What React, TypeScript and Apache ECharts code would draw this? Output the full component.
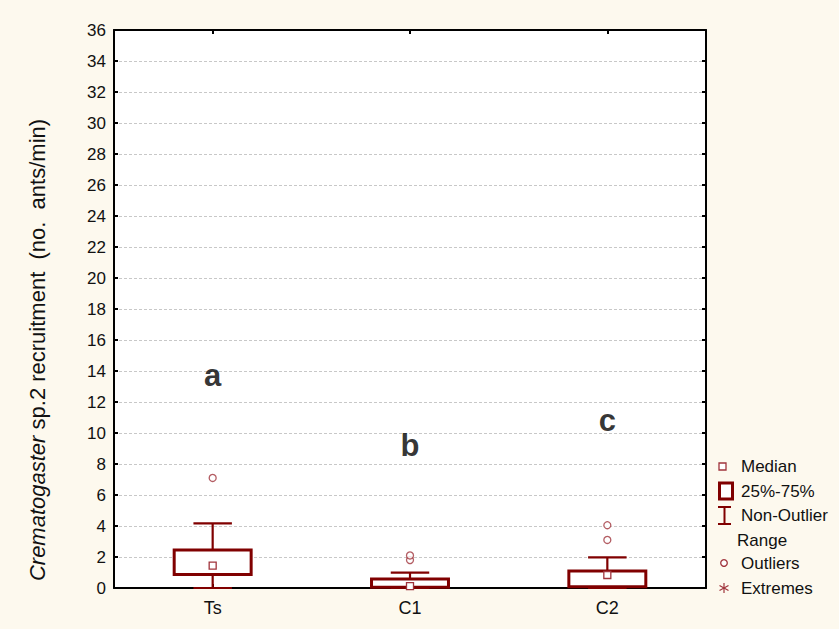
import React, { useEffect, useRef } from "react";
import * as echarts from "echarts";

// Groups on the x axis
const categories = ["Ts", "C1", "C2"];
// [min, Q1, median, Q3, max] of the non-outlier range for each group
const boxStats = [
  [0, 0.87, 1.44, 2.45, 4.17],
  [0, 0.05, 0.12, 0.58, 0.99],
  [0, 0.08, 0.84, 1.1, 1.98],
];
// Outliers as [group index, value]
const outliers = [
  [0, 7.1],
  [1, 1.8],
  [1, 2.1],
  [2, 3.1],
  [2, 4.05],
];
// Significance letters as [group index, value, letter]
const letters: [number, number, string][] = [
  [0, 13.7, "a"],
  [1, 9.2, "b"],
  [2, 10.8, "c"],
];
const yTicks = { min: 0, max: 36, interval: 2 };
const yTitle = "{i|Crematogaster} sp.2 recruitment  (no.  ants/min)";

const DARK = "#800000";
const LIGHT = "#a0343c";
const FONT = "Liberation Sans, Arial, sans-serif";

export default function App() {
  const ref = useRef<HTMLDivElement>(null);

  useEffect(() => {
    if (!ref.current) return;
    const chart = echarts.init(ref.current, null, { renderer: "svg" });

    const axisLine = { show: true, onZero: false, lineStyle: { color: "#000", width: 2 } };
    const tick = { show: true, inside: true, length: 4, lineStyle: { color: "#000", width: 2 } };

    const legendText = (text: string, x: number, y: number) => ({
      type: "text",
      x,
      y,
      style: { text, fontFamily: FONT, fontSize: 17, fill: "#111", verticalAlign: "middle", align: "left" },
    });

    const lx = 718;
    const graphics = [
      {
        type: "text",
        x: 37,
        y: 350,
        rotation: Math.PI / 2,
        style: {
          text: yTitle,
          fontFamily: FONT,
          fontSize: 22,
          fill: "#111",
          align: "center",
          verticalAlign: "middle",
          rich: { i: { fontFamily: FONT, fontSize: 22, fontStyle: "italic", fill: "#111" } },
        },
      },
      { type: "rect", shape: { x: 719, y: 463, width: 7, height: 7 }, style: { fill: "#fff", stroke: LIGHT, lineWidth: 1.3 } },
      legendText("Median", 741, 466),
      { type: "rect", shape: { x: 719.5, y: 483, width: 13, height: 16 }, style: { fill: "#fff", stroke: DARK, lineWidth: 3 } },
      legendText("25%-75%", 741, 491),
      { type: "line", shape: { x1: lx, y1: 507, x2: lx + 13, y2: 507 }, style: { stroke: DARK, lineWidth: 2 } },
      { type: "line", shape: { x1: lx + 6.5, y1: 507, x2: lx + 6.5, y2: 524 }, style: { stroke: DARK, lineWidth: 2 } },
      { type: "line", shape: { x1: lx, y1: 524, x2: lx + 13, y2: 524 }, style: { stroke: DARK, lineWidth: 2 } },
      legendText("Non-Outlier", 741, 515),
      legendText("Range", 737, 540),
      { type: "circle", shape: { cx: 724, cy: 563, r: 3.3 }, style: { fill: "#fff", stroke: LIGHT, lineWidth: 1.3 } },
      legendText("Outliers", 741, 563),
      { type: "line", shape: { x1: 724, y1: 583, x2: 724, y2: 593 }, style: { stroke: LIGHT, lineWidth: 1.2 } },
      { type: "line", shape: { x1: 719.5, y1: 585.5, x2: 728.5, y2: 590.5 }, style: { stroke: LIGHT, lineWidth: 1.2 } },
      { type: "line", shape: { x1: 728.5, y1: 585.5, x2: 719.5, y2: 590.5 }, style: { stroke: LIGHT, lineWidth: 1.2 } },
      legendText("Extremes", 741, 588),
    ];

    chart.setOption({
      animation: false,
      backgroundColor: "#fdf9ee",
      grid: {
        left: 114,
        right: 133,
        top: 30,
        bottom: 41,
        show: true,
        backgroundColor: "#ffffff",
        borderWidth: 0,
      },
      xAxis: [
        {
          type: "category",
          data: categories,
          position: "bottom",
          axisLine,
          axisTick: { ...tick, alignWithLabel: true },
          axisLabel: { fontFamily: FONT, fontSize: 18, color: "#111", margin: 11 },
          splitLine: { show: false },
        },
        {
          type: "category",
          data: categories,
          position: "top",
          axisLine,
          axisTick: { ...tick, alignWithLabel: true },
          axisLabel: { show: false },
          splitLine: { show: false },
        },
      ],
      yAxis: [
        {
          type: "value",
          min: yTicks.min,
          max: yTicks.max,
          interval: yTicks.interval,
          position: "left",
          axisLine,
          axisTick: tick,
          axisLabel: { fontFamily: FONT, fontSize: 17, color: "#111", margin: 8 },
          splitLine: { show: true, lineStyle: { color: "#c8c8c8", type: [3, 2], width: 1 } },
        },
        {
          type: "value",
          min: yTicks.min,
          max: yTicks.max,
          interval: yTicks.interval,
          position: "right",
          axisLine,
          axisTick: tick,
          axisLabel: { show: false },
          splitLine: { show: false },
        },
      ],
      series: [
        {
          type: "custom",
          xAxisIndex: 0,
          yAxisIndex: 0,
          data: boxStats.map((s, i) => [i, ...s]),
          renderItem: (params: any, api: any) => {
            const idx = api.value(0);
            const mn = api.value(1), q1 = api.value(2), med = api.value(3), q3 = api.value(4), mx = api.value(5);
            const band = api.size([1, 0])[0];
            const boxW = band * 0.39;
            const capW = band * 0.195;
            const cx = api.coord([idx, 0])[0];
            const yMin = api.coord([idx, mn])[1];
            const yQ1 = api.coord([idx, q1])[1];
            const yMed = api.coord([idx, med])[1];
            const yQ3 = api.coord([idx, q3])[1];
            const yMax = api.coord([idx, mx])[1];
            const wStyle = { stroke: DARK, lineWidth: 2.2 };
            return {
              type: "group",
              children: [
                { type: "line", shape: { x1: cx, y1: yQ3, x2: cx, y2: yMax }, style: wStyle },
                { type: "line", shape: { x1: cx - capW / 2, y1: yMax, x2: cx + capW / 2, y2: yMax }, style: wStyle },
                { type: "line", shape: { x1: cx, y1: yQ1, x2: cx, y2: yMin }, style: wStyle },
                { type: "line", shape: { x1: cx - capW / 2, y1: yMin, x2: cx + capW / 2, y2: yMin }, style: wStyle },
                {
                  type: "rect",
                  shape: { x: cx - boxW / 2, y: yQ3, width: boxW, height: yQ1 - yQ3 },
                  style: { fill: "#fff", stroke: DARK, lineWidth: 3 },
                },
                {
                  type: "rect",
                  shape: { x: cx - 3.5, y: yMed - 3.5, width: 7, height: 7 },
                  style: { fill: "#fff", stroke: LIGHT, lineWidth: 1.3 },
                },
              ],
            };
          },
          z: 3,
        },
        {
          type: "scatter",
          xAxisIndex: 0,
          yAxisIndex: 0,
          data: outliers,
          symbol: "circle",
          symbolSize: 7,
          itemStyle: { color: "#fff", borderColor: LIGHT, borderWidth: 1.3 },
          z: 4,
        },
        {
          type: "scatter",
          xAxisIndex: 0,
          yAxisIndex: 0,
          data: letters.map((l) => ({ value: [l[0], l[1]], name: l[2] })),
          symbolSize: 0,
          label: {
            show: true,
            position: "inside",
            formatter: (p: any) => p.name,
            fontFamily: FONT,
            fontWeight: "bold",
            fontSize: 31,
            color: "#000",
            textBorderWidth: 0,
          },
          z: 5,
        },
      ],
      graphic: graphics,
    });

    return () => chart.dispose();
  }, []);

  return (
    <div
      ref={ref}
      style={{ position: "fixed", left: 0, top: 0, width: 839, height: 629 }}
    />
  );
}
